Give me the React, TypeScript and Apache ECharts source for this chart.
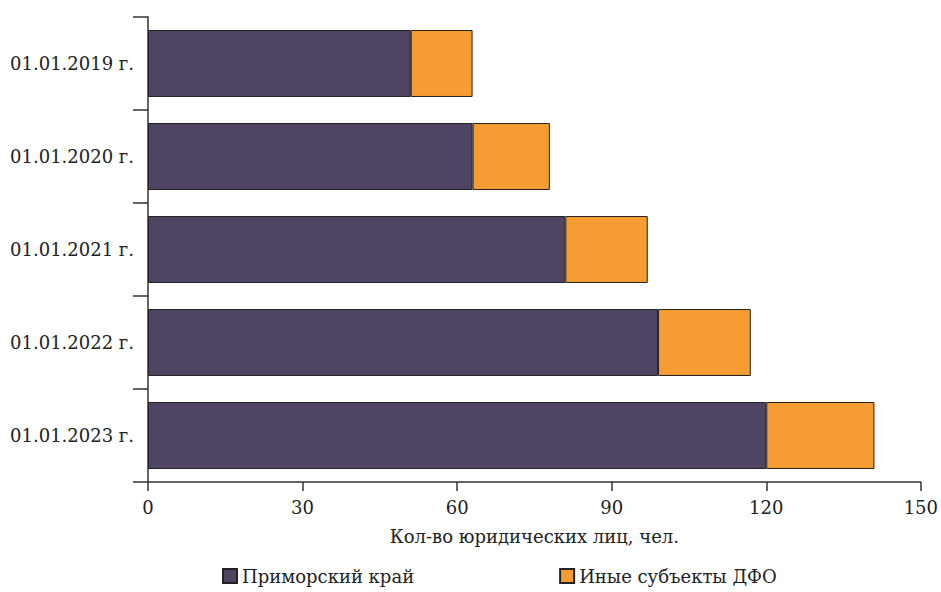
import React, { useEffect, useRef } from "react";
import * as echarts from "echarts";

const categories = ["01.01.2019 г.", "01.01.2020 г.", "01.01.2021 г.", "01.01.2022 г.", "01.01.2023 г."];
const primorsky = [51, 63, 81, 99, 120];
const otherDFO = [12, 15, 16, 18, 21];
const seriesNames = ["Приморский край", "Иные субъекты ДФО"];
const axisTitle = "Кол-во юридических лиц, чел.";

const FONT = "DejaVu Serif";

export default function App() {
  const ref = useRef<HTMLDivElement>(null);
  useEffect(() => {
    if (!ref.current) return;
    const chart = echarts.init(ref.current, undefined, { renderer: "svg" });
    chart.setOption({
      animation: false,
      textStyle: { fontFamily: FONT },
      grid: { left: 148, right: 18, top: 17, bottom: 110, containLabel: false },
      legend: {
        left: 217,
        top: 562,
        itemGap: 145,
        itemWidth: 14,
        itemHeight: 14,
        icon: "rect",
        textStyle: { fontFamily: FONT, fontSize: 18, color: "#222" },
        data: seriesNames,
      },
      xAxis: {
        type: "value",
        min: 0,
        max: 150,
        interval: 30,
        name: axisTitle,
        nameLocation: "middle",
        nameGap: 45,
        nameTextStyle: { fontFamily: FONT, fontSize: 18, color: "#222" },
        axisLine: { show: true, lineStyle: { color: "#333", width: 1.5 } },
        axisTick: { show: true, length: 9, lineStyle: { color: "#333", width: 1.5 } },
        axisLabel: { fontFamily: FONT, fontSize: 18, color: "#222", margin: 16 },
        splitLine: { show: false },
      },
      yAxis: {
        type: "category",
        inverse: true,
        data: categories,
        axisLine: { show: true, lineStyle: { color: "#333", width: 1.5 } },
        axisTick: { show: true, length: 15, lineStyle: { color: "#333", width: 1.5 } },
        axisLabel: { fontFamily: FONT, fontSize: 18, color: "#222", margin: 14 },
      },
      series: [
        {
          name: seriesNames[0],
          type: "bar",
          stack: "total",
          data: primorsky,
          barCategoryGap: "28%",
          itemStyle: { color: "#4f4463", borderColor: "#222", borderWidth: 1 },
        },
        {
          name: seriesNames[1],
          type: "bar",
          stack: "total",
          data: otherDFO,
          barCategoryGap: "28%",
          itemStyle: { color: "#f59c33", borderColor: "#222", borderWidth: 1 },
        },
      ],
    });
    return () => chart.dispose();
  }, []);
  return <div ref={ref} style={{ width: 941, height: 592, position: "absolute", left: 0, top: 0 }} />;
}
